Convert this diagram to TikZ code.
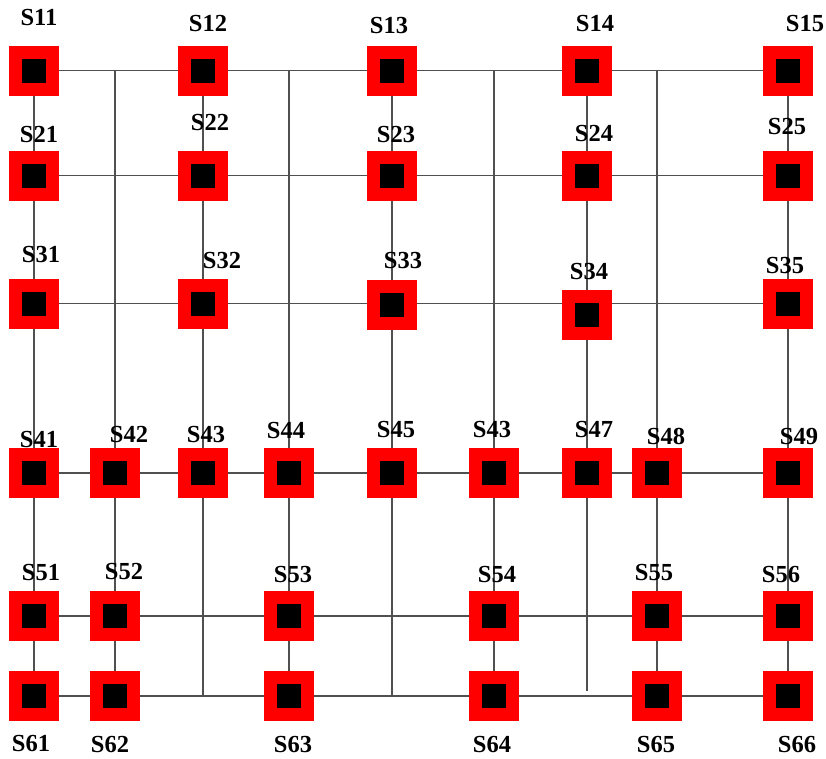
\documentclass[tikz,border=0pt]{standalone}
\usepackage{fontspec}
\setmainfont{Liberation Serif}
\usetikzlibrary{backgrounds}
\begin{document}
\begin{tikzpicture}[x=1pt,y=-1pt,
  sq/.style={draw=red,line width=13pt,fill=black,minimum size=37pt,inner sep=0pt,outer sep=0pt},
  lab/.style={inner sep=0pt,outer sep=0pt,font=\fontsize{24.5}{24.5}\selectfont\bfseries},
  wire/.style={draw={rgb,255:red,80;green,80;blue,80},line width=1.6pt}]
\useasboundingbox (0,0) rectangle (826,758);
% squares
\node[sq] (S11) at (34,70.5) {}; \node[sq] (S12) at (203,70.5) {}; \node[sq] (S13) at (392,70.5) {};
\node[sq] (S14) at (587,70.5) {}; \node[sq] (S15) at (788,70.5) {};
\node[sq] (S21) at (34,175.5) {}; \node[sq] (S22) at (203,175.5) {}; \node[sq] (S23) at (392,175.5) {};
\node[sq] (S24) at (587,175.5) {}; \node[sq] (S25) at (788,175.5) {};
\node[sq] (S31) at (34,303.5) {}; \node[sq] (S32) at (203,303.5) {}; \node[sq] (S33) at (392,305) {};
\node[sq] (S34) at (587,315) {}; \node[sq] (S35) at (788,303.5) {};
\node[sq] (S41) at (34,473) {}; \node[sq] (S42) at (115,473) {}; \node[sq] (S43) at (203,473) {};
\node[sq] (S44) at (289,473) {}; \node[sq] (S45) at (392,473) {}; \node[sq] (S46) at (494,473) {};
\node[sq] (S47) at (587,473) {}; \node[sq] (S48) at (657,473) {}; \node[sq] (S49) at (788,473) {};
\node[sq] (S51) at (34,616) {}; \node[sq] (S52) at (115,616) {}; \node[sq] (S53) at (289,616) {};
\node[sq] (S54) at (494,616) {}; \node[sq] (S55) at (657,616) {}; \node[sq] (S56) at (788,616) {};
\node[sq] (S61) at (34,696) {}; \node[sq] (S62) at (115,696) {}; \node[sq] (S63) at (289,696) {};
\node[sq] (S64) at (494,696) {}; \node[sq] (S65) at (657,696) {}; \node[sq] (S66) at (788,696) {};
% wires (behind the squares)
\begin{scope}[on background layer]
% rows
\draw[wire] (S11.center) -- (S15.center);
\draw[wire] (S21.center) -- (S25.center);
\draw[wire] (S31.center) -- (S35.center);
\draw[wire] (S41.center) -- (S49.center);
\draw[wire] (S51.center) -- (S56.center);
\draw[wire] (S61.center) -- (S66.center);
% columns through the squares
\draw[wire] (S11.center) -- (S61.center);
\draw[wire] (S12.center) -- (S43.center) -- (S43.center |- S61.center);
\draw[wire] (S13.center) -- (S45.center) -- (S45.center |- S61.center);
\draw[wire] (S14.center) -- (S47.center) -- ([yshift=5pt]S47.center |- S61.center);
\draw[wire] (S15.center) -- (S66.center);
% extra columns from the top row
\draw[wire] (S42.center |- S11.center) -- (S62.center);
\draw[wire] (S44.center |- S11.center) -- (S63.center);
\draw[wire] (S46.center |- S11.center) -- (S64.center);
\draw[wire] (S48.center |- S11.center) -- (S65.center);
\end{scope}
% labels
\node[lab] (l11) at (39,18) {S11}; \node[lab] (l12) at (208,24) {S12}; \node[lab] (l13) at (389,26) {S13};
\node[lab] (l14) at (595,24) {S14}; \node[lab] (l15) at (805,24) {S15};
\node[lab] (l21) at (39,135) {S21}; \node[lab] (l22) at (210,123) {S22}; \node[lab] (l23) at (396,135) {S23};
\node[lab] (l24) at (594,134) {S24}; \node[lab] (l25) at (787,127) {S25};
\node[lab] (l31) at (41,255) {S31}; \node[lab] (l32) at (222,261) {S32}; \node[lab] (l33) at (403,261) {S33};
\node[lab] (l34) at (589,272) {S34}; \node[lab] (l35) at (785,266) {S35};
\node[lab] (l41) at (39,439) {S41}; \node[lab] (l42) at (129,434) {S42}; \node[lab] (l43) at (206,434) {S43};
\node[lab] (l44) at (286,430) {S44}; \node[lab] (l45) at (396,429) {S45}; \node[lab] (l46) at (492,429) {S43};
\node[lab] (l47) at (594,429) {S47}; \node[lab] (l48) at (666,436) {S48}; \node[lab] (l49) at (799,436) {S49};
\node[lab] (l51) at (41,572) {S51}; \node[lab] (l52) at (124,571) {S52}; \node[lab] (l53) at (293,574) {S53};
\node[lab] (l54) at (497,574) {S54}; \node[lab] (l55) at (654,572) {S55}; \node[lab] (l56) at (781,574) {S56};
\node[lab] (l61) at (31,743) {S61}; \node[lab] (l62) at (110,744) {S62}; \node[lab] (l63) at (293,744) {S63};
\node[lab] (l64) at (492,744) {S64}; \node[lab] (l65) at (656,744) {S65}; \node[lab] (l66) at (797,744) {S66};
\end{tikzpicture}
\end{document}
